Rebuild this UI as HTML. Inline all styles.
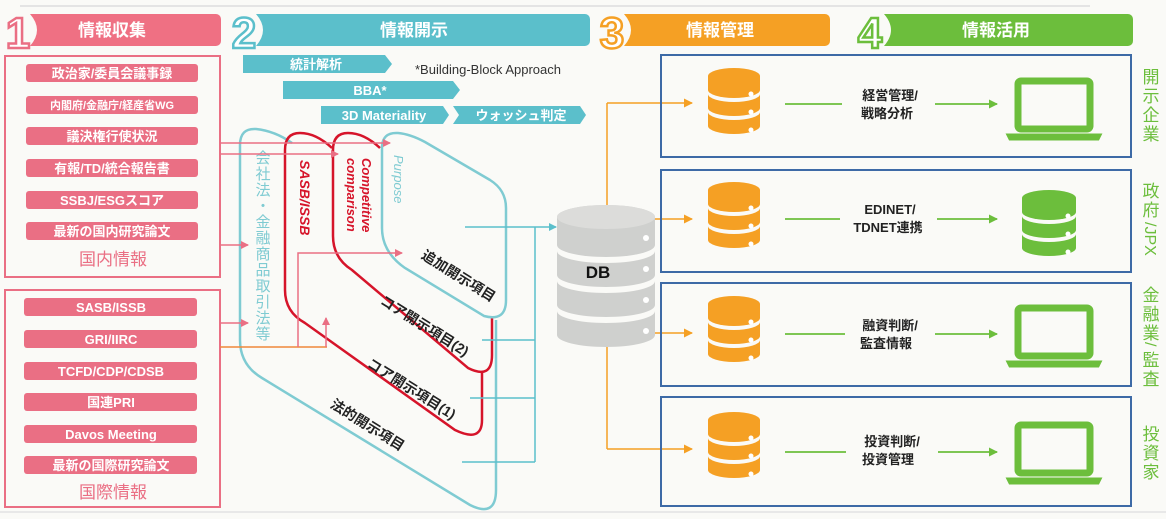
<!DOCTYPE html>
<html><head><meta charset="utf-8"><style>
html,body{margin:0;padding:0;background:#fafaf7;}
svg{display:block;font-family:"Liberation Sans","Noto Sans CJK JP",sans-serif;}
</style></head><body>
<svg width="1166" height="519" viewBox="0 0 1166 519" xmlns="http://www.w3.org/2000/svg">
<defs>
<marker id="ap" markerWidth="8" markerHeight="8" refX="7" refY="4" orient="auto" markerUnits="userSpaceOnUse"><path d="M0,0 L8,4 L0,8 Z" fill="#ea6f84"/></marker>
<marker id="at" markerWidth="8" markerHeight="8" refX="7" refY="4" orient="auto" markerUnits="userSpaceOnUse"><path d="M0,0 L8,4 L0,8 Z" fill="#5bbfcb"/></marker>
<marker id="ao" markerWidth="9" markerHeight="9" refX="8" refY="4.5" orient="auto" markerUnits="userSpaceOnUse"><path d="M0,0 L9,4.5 L0,9 Z" fill="#f5a024"/></marker>
<marker id="ag" markerWidth="9" markerHeight="9" refX="8" refY="4.5" orient="auto" markerUnits="userSpaceOnUse"><path d="M0,0 L9,4.5 L0,9 Z" fill="#6cbe3c"/></marker>
<g id="odb">
<path d="M0,8 A26,8 0 0 1 52,8 V22 A26,8 0 0 1 0,22 Z" fill="#f5a024"/>
<path d="M0,26 A26,8 0 0 0 52,26 V40 A26,8 0 0 1 0,40 Z" fill="#f5a024"/>
<path d="M0,44 A26,8 0 0 0 52,44 V58 A26,8 0 0 1 0,58 Z" fill="#f5a024"/>
<circle cx="43" cy="26" r="2.5" fill="#fff"/><circle cx="43" cy="44" r="2.5" fill="#fff"/><circle cx="43" cy="62" r="2.5" fill="#fff"/>
</g>
<g id="lap">
<rect x="10" y="0" width="72" height="48" rx="3" fill="none" stroke="#6cbe3c" stroke-width="7"/>
<path d="M0,54 H92 L90,58 H2 Z" fill="#6cbe3c" stroke="#6cbe3c" stroke-width="3"/>
</g>
</defs>

<line x1="20" y1="6" x2="1090" y2="6" stroke="#e4e4e4" stroke-width="2"/>
<line x1="0" y1="512" x2="1166" y2="512" stroke="#e8e8e8" stroke-width="2"/>

<!-- headers -->
<path d="M30,14 H216 a5,5 0 0 1 5,5 V41 a5,5 0 0 1 -5,5 H30 Q44,30 30,14Z" fill="#ef7083"/>
<text x="18" y="48" font-size="44" font-weight="bold" fill="#fff" stroke="#ea6f84" stroke-width="2.5" text-anchor="middle">1</text>
<text x="112" y="36" font-size="17" font-weight="bold" fill="#fff" text-anchor="middle">情報収集</text>

<path d="M256,14 H585 a5,5 0 0 1 5,5 V41 a5,5 0 0 1 -5,5 H256 Q270,30 256,14Z" fill="#5bbfcb"/>
<text x="244" y="48" font-size="44" font-weight="bold" fill="#fff" stroke="#5bbfcb" stroke-width="2.5" text-anchor="middle">2</text>
<text x="414" y="36" font-size="17" font-weight="bold" fill="#fff" text-anchor="middle">情報開示</text>

<path d="M624,14 H825 a5,5 0 0 1 5,5 V41 a5,5 0 0 1 -5,5 H624 Q638,30 624,14Z" fill="#f5a024"/>
<text x="612" y="48" font-size="44" font-weight="bold" fill="#fff" stroke="#f5a024" stroke-width="2.5" text-anchor="middle">3</text>
<text x="720" y="36" font-size="17" font-weight="bold" fill="#fff" text-anchor="middle">情報管理</text>

<path d="M884,14 H1128 a5,5 0 0 1 5,5 V41 a5,5 0 0 1 -5,5 H884 Q898,30 884,14Z" fill="#6cbe3c"/>
<text x="870" y="48" font-size="44" font-weight="bold" fill="#fff" stroke="#6cbe3c" stroke-width="2.5" text-anchor="middle">4</text>
<text x="996" y="36" font-size="17" font-weight="bold" fill="#fff" text-anchor="middle">情報活用</text>

<!-- section 1 -->
<rect x="5" y="56" width="215" height="221" fill="none" stroke="#ea6f84" stroke-width="2"/>
<rect x="5" y="290" width="215" height="217" fill="none" stroke="#ea6f84" stroke-width="2"/>
<g font-size="13" font-weight="bold" fill="#fff" text-anchor="middle">
<rect x="26" y="64" width="172" height="18" rx="3" fill="#ea6f84"/><text x="112" y="78">政治家/委員会議事録</text>
<rect x="26" y="96" width="172" height="18" rx="3" fill="#ea6f84"/><text x="112" y="109" font-size="11">内閣府/金融庁/経産省WG</text>
<rect x="26" y="127" width="172" height="18" rx="3" fill="#ea6f84"/><text x="112" y="141">議決権行使状況</text>
<rect x="26" y="159" width="172" height="18" rx="3" fill="#ea6f84"/><text x="112" y="173">有報/TD/統合報告書</text>
<rect x="26" y="191" width="172" height="18" rx="3" fill="#ea6f84"/><text x="112" y="205">SSBJ/ESGスコア</text>
<rect x="26" y="222" width="172" height="18" rx="3" fill="#ea6f84"/><text x="112" y="236">最新の国内研究論文</text>
<rect x="24" y="298" width="173" height="18" rx="3" fill="#ea6f84"/><text x="111" y="312">SASB/ISSB</text>
<rect x="24" y="330" width="173" height="18" rx="3" fill="#ea6f84"/><text x="111" y="344">GRI/IIRC</text>
<rect x="24" y="362" width="173" height="18" rx="3" fill="#ea6f84"/><text x="111" y="376">TCFD/CDP/CDSB</text>
<rect x="24" y="393" width="173" height="18" rx="3" fill="#ea6f84"/><text x="111" y="407">国連PRI</text>
<rect x="24" y="425" width="173" height="18" rx="3" fill="#ea6f84"/><text x="111" y="439">Davos Meeting</text>
<rect x="24" y="456" width="173" height="18" rx="3" fill="#ea6f84"/><text x="111" y="470">最新の国際研究論文</text>
</g>
<text x="113" y="265" font-size="17" fill="#ea6f84" text-anchor="middle">国内情報</text>
<text x="113" y="498" font-size="17" fill="#ea6f84" text-anchor="middle">国際情報</text>

<!-- section 2 bars -->
<path d="M243,55 H385 L392,64 L385,73 H243Z" fill="#5bbfcb"/>
<text x="290" y="69" font-size="13" font-weight="bold" fill="#fff">統計解析</text>
<text x="415" y="74" font-size="13" fill="#333">*Building-Block Approach</text>
<path d="M283,81 H453 L460,90 L453,99 H283Z" fill="#5bbfcb"/>
<text x="370" y="95" font-size="13" font-weight="bold" fill="#fff" text-anchor="middle">BBA*</text>
<path d="M321,106 H443 L449,115 L443,124 H321Z" fill="#5bbfcb"/>
<text x="384" y="120" font-size="13" font-weight="bold" fill="#fff" text-anchor="middle">3D Materiality</text>
<path d="M453,106 H580 L586,115 L580,124 H453 L459,115Z" fill="#5bbfcb"/>
<text x="521" y="120" font-size="13" font-weight="bold" fill="#fff" text-anchor="middle">ウォッシュ判定</text>

<!-- layered shapes -->
<path d="M240,145 Q240,128 256,129 Q275,131 292,143 M240,145 V340 Q240,365 262,378 L470,505 Q496,518 496,490 V320" fill="none" stroke="#7fcbd2" stroke-width="2.5"/>
<path d="M285,150 Q285,133 300,133 Q316,133 332,148 M285,150 V290 Q285,312 305,323 L455,430 Q482,443 482,420 V372" fill="none" stroke="#d6142a" stroke-width="2.5"/>
<path d="M333,150 Q333,133 348,133 Q364,133 380,148 M333,150 V236 Q333,258 352,270 L468,368 Q492,380 492,355 V318" fill="none" stroke="#d6142a" stroke-width="2.5"/>
<path d="M382,148 Q382,132 398,133 Q410,134 425,142 L490,180 Q506,190 506,208 V300 Q506,322 484,316 L405,268 Q382,252 382,228 Z" fill="#fafaf7" stroke="#7fcbd2" stroke-width="2.5"/>

<text x="262" y="150" writing-mode="tb" font-size="15" letter-spacing="1" fill="#7fcbd2">会社法・金融商品取引法等</text>
<text transform="translate(300,160) rotate(90)" font-size="14" font-weight="bold" font-style="italic" fill="#d6142a">SASB/ISSB</text>
<text transform="translate(362,158) rotate(90)" font-size="13" font-weight="bold" font-style="italic" fill="#d6142a">Competitive</text>
<text transform="translate(347,158) rotate(90)" font-size="13" font-weight="bold" font-style="italic" fill="#d6142a">comparison</text>
<text transform="translate(394,155) rotate(90)" font-size="13" font-style="italic" fill="#7fcbd2">Purpose</text>
<g font-size="14" font-weight="bold" fill="#222" text-anchor="middle">
<text transform="translate(456,280) rotate(32)">追加開示項目</text>
<text transform="translate(422,330) rotate(32)">コア開示項目(2)</text>
<text transform="translate(409,393) rotate(32)">コア開示項目(1)</text>
<text transform="translate(365,429) rotate(32)">法的開示項目</text>
</g>

<!-- input arrows -->
<line x1="220" y1="143" x2="390" y2="143" stroke="#ea6f84" stroke-width="1.5" marker-end="url(#ap)"/>
<line x1="220" y1="154" x2="338" y2="154" stroke="#ea6f84" stroke-width="1.5" marker-end="url(#ap)"/>
<line x1="220" y1="245" x2="248" y2="245" stroke="#ea6f84" stroke-width="1.5" marker-end="url(#ap)"/>
<line x1="220" y1="323" x2="248" y2="323" stroke="#ea6f84" stroke-width="1.5" marker-end="url(#ap)"/>
<line x1="220" y1="347" x2="327" y2="347" stroke="#f0883a" stroke-width="1.5"/>
<path d="M298,347 V253 H402" fill="none" stroke="#ea6f84" stroke-width="1.5" marker-end="url(#ap)"/>
<path d="M326,347 V318" fill="none" stroke="#ea6f84" stroke-width="1.5" marker-end="url(#ap)"/>

<!-- output to DB -->
<g stroke="#5bbfcb" stroke-width="1.5" fill="none">
<line x1="465" y1="227" x2="556" y2="227" marker-end="url(#at)"/>
<line x1="535" y1="227" x2="535" y2="462"/>
<line x1="482" y1="340" x2="535" y2="340"/>
<line x1="470" y1="398" x2="535" y2="398"/>
<line x1="462" y1="462" x2="535" y2="462"/>
</g>

<!-- DB -->
<g fill="#cfd0ce">
<path d="M557,217 A49,12 0 0 1 655,217 V245 A49,12 0 0 1 557,245 Z"/>
<path d="M557,251 A49,12 0 0 0 655,251 V275 A49,12 0 0 1 557,275 Z"/>
<path d="M557,281 A49,12 0 0 0 655,281 V305 A49,12 0 0 1 557,305 Z"/>
<path d="M557,311 A49,12 0 0 0 655,311 V335 A49,12 0 0 1 557,335 Z"/>
</g>
<ellipse cx="606" cy="217" rx="49" ry="12" fill="#dcdcda"/>
<g fill="#fff"><circle cx="646" cy="238" r="3"/><circle cx="646" cy="269" r="3"/><circle cx="646" cy="300" r="3"/><circle cx="646" cy="331" r="3"/></g>
<text x="598" y="278" font-size="17" font-weight="bold" fill="#111" text-anchor="middle">DB</text>

<!-- orange distribution -->
<g stroke="#f5a024" stroke-width="1.5" fill="none">
<line x1="607" y1="103" x2="607" y2="205"/>
<line x1="607" y1="347" x2="607" y2="449"/>
<line x1="607" y1="103" x2="692" y2="103" marker-end="url(#ao)"/>
<line x1="655" y1="219" x2="692" y2="219" marker-end="url(#ao)"/>
<line x1="655" y1="333" x2="692" y2="333" marker-end="url(#ao)"/>
<line x1="607" y1="449" x2="692" y2="449" marker-end="url(#ao)"/>
</g>

<!-- right rows -->
<g fill="none" stroke="#3d6aa6" stroke-width="2">
<rect x="661" y="55" width="470" height="102"/>
<rect x="661" y="170" width="470" height="102"/>
<rect x="661" y="283" width="470" height="103"/>
<rect x="661" y="397" width="470" height="109"/>
</g>
<use href="#odb" x="708" y="68"/>
<use href="#odb" x="708" y="182"/>
<use href="#odb" x="708" y="296"/>
<use href="#odb" x="708" y="412"/>
<g stroke="#6cbe3c" stroke-width="1.8">
<line x1="785" y1="104" x2="842" y2="104"/><line x1="935" y1="104" x2="997" y2="104" marker-end="url(#ag)"/>
<line x1="785" y1="219" x2="840" y2="219"/><line x1="937" y1="219" x2="997" y2="219" marker-end="url(#ag)"/>
<line x1="785" y1="334" x2="845" y2="334"/><line x1="935" y1="334" x2="997" y2="334" marker-end="url(#ag)"/>
<line x1="785" y1="452" x2="846" y2="452"/><line x1="938" y1="452" x2="997" y2="452" marker-end="url(#ag)"/>
</g>
<g font-size="13" font-weight="bold" fill="#222" text-anchor="middle">
<text x="890" y="100">経営管理/</text><text x="887" y="118">戦略分析</text>
<text x="890" y="214">EDINET/</text><text x="888" y="232">TDNET連携</text>
<text x="890" y="330">融資判断/</text><text x="886" y="348">監査情報</text>
<text x="892" y="446">投資判断/</text><text x="888" y="464">投資管理</text>
</g>
<use href="#lap" x="1008" y="81"/>
<use href="#lap" x="1008" y="308"/>
<use href="#lap" x="1008" y="425"/>
<g fill="#6cbe3c">
<path d="M1022,198 A27,8 0 0 1 1076,198 V212 A27,8 0 0 1 1022,212 Z"/>
<path d="M1022,216 A27,8 0 0 0 1076,216 V230 A27,8 0 0 1 1022,230 Z"/>
<path d="M1022,234 A27,8 0 0 0 1076,234 V248 A27,8 0 0 1 1022,248 Z"/>
</g>
<g fill="#fff"><circle cx="1068" cy="216" r="2.5"/><circle cx="1068" cy="234" r="2.5"/><circle cx="1068" cy="252" r="2.5"/></g>

<g font-size="17" fill="#6cbe3c" text-anchor="middle">
<text x="1151" y="83">開</text><text x="1151" y="102">示</text><text x="1151" y="121">企</text><text x="1151" y="140">業</text>
<text x="1151" y="197">政</text><text x="1151" y="216">府</text>
<text transform="translate(1145,222) rotate(90)" font-size="16" text-anchor="start">/JPX</text>
<text x="1151" y="301">金</text><text x="1151" y="320">融</text><text x="1151" y="339">業</text>
<text transform="translate(1145,342) rotate(90)" font-size="16" text-anchor="start">/</text>
<text x="1151" y="366">監</text><text x="1151" y="385">査</text>
<text x="1151" y="440">投</text><text x="1151" y="459">資</text><text x="1151" y="478">家</text>
</g>
</svg>
</body></html>
